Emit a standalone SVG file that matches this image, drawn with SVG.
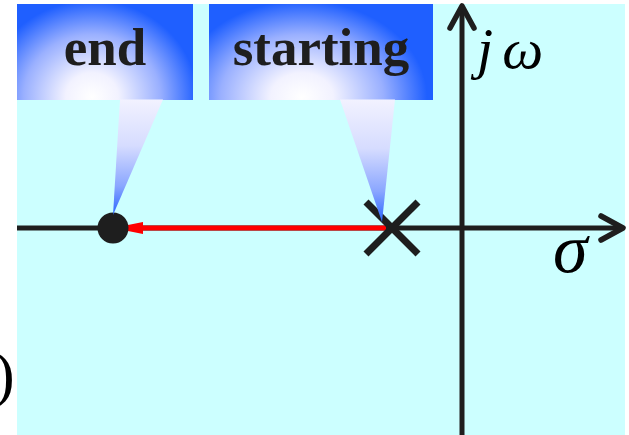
<svg xmlns="http://www.w3.org/2000/svg" width="629" height="435" viewBox="0 0 629 435">
  <defs>
    <radialGradient id="gEndBox" gradientUnits="userSpaceOnUse" cx="92" cy="97" r="105" gradientTransform="translate(92,97) scale(1,0.92) translate(-92,-97)">
      <stop offset="0" stop-color="#ffffff"/>
      <stop offset="0.25" stop-color="#f2f2ff"/>
      <stop offset="0.65" stop-color="#9ab0ff"/>
      <stop offset="1" stop-color="#1f5fff"/>
    </radialGradient>
    <radialGradient id="gStartBox" gradientUnits="userSpaceOnUse" cx="302" cy="97" r="125" gradientTransform="translate(302,97) scale(1,0.77) translate(-302,-97)">
      <stop offset="0" stop-color="#ffffff"/>
      <stop offset="0.25" stop-color="#f2f2ff"/>
      <stop offset="0.65" stop-color="#9ab0ff"/>
      <stop offset="1" stop-color="#1f5fff"/>
    </radialGradient>
    <linearGradient id="gTail" x1="0" y1="0" x2="0" y2="1">
      <stop offset="0" stop-color="#f2f2ff"/>
      <stop offset="0.4" stop-color="#d6dcff"/>
      <stop offset="0.75" stop-color="#8aa6ff"/>
      <stop offset="1" stop-color="#2a66ff"/>
    </linearGradient>
    <marker id="redHead" viewBox="0 0 30 12" refX="0" refY="6" markerWidth="30" markerHeight="12" markerUnits="userSpaceOnUse" orient="auto">
      <path d="M0,0 L30,6 L0,12 Z" fill="#ff0000"/>
    </marker>
    <style>
      .axis { stroke: #1e1e1e; stroke-width: 5; fill: none; }
      .chev { stroke: #1e1e1e; stroke-width: 5.5; fill: none; stroke-linecap: round; stroke-linejoin: round; }
      .lbl { font-family: "Liberation Serif", "Times New Roman", serif; font-weight: bold; font-size: 53px; fill: #1e1e1e; text-anchor: middle; }
      .math { font-family: "Liberation Serif", "Times New Roman", serif; font-style: italic; fill: #000; }
    </style>
  </defs>
  <rect x="0" y="0" width="629" height="435" fill="#ffffff"/>
  <rect x="17" y="4" width="608" height="431" fill="#ccffff"/>
  <text x="-6" y="395" font-family="Liberation Serif, serif" font-size="62" fill="#000">)</text>

  <g id="axes">
    <line class="axis" x1="17" y1="228" x2="621" y2="228"/>
    <polyline class="chev" points="601,216 623,228 601,240"/>
    <line class="axis" x1="462" y1="435" x2="462" y2="8"/>
    <polyline class="chev" points="450,28 462,6 474,28"/>
    <text class="math" x="477" y="68" font-size="58">j<tspan dx="9">ω</tspan></text>
    <text class="math" x="553" y="272" font-size="70">σ</text>
  </g>

  <g id="connectors">
    <line x1="386" y1="228" x2="143" y2="228" stroke="#ff0000" stroke-width="5" marker-end="url(#redHead)"/>
  </g>

  <g id="end-node">
    <circle cx="113" cy="228" r="15.5" fill="#1e1e1e"/>
  </g>
  <g id="start-node">
    <line x1="366" y1="202" x2="418" y2="254" stroke="#1e1e1e" stroke-width="7"/>
    <line x1="366" y1="254" x2="418" y2="202" stroke="#1e1e1e" stroke-width="7"/>
  </g>

  <g id="callout-end">
    <rect x="17" y="4" width="176" height="96" fill="url(#gEndBox)"/>
    <path d="M120,99.5 H163 L113,215 Z" fill="url(#gTail)"/>
    <text class="lbl" x="105" y="65">end</text>
  </g>
  <g id="callout-starting">
    <rect x="209" y="4" width="224" height="96" fill="url(#gStartBox)"/>
    <path d="M340,99.5 H395 L382,222 Z" fill="url(#gTail)"/>
    <text class="lbl" x="321" y="65">starting</text>
  </g>
</svg>
